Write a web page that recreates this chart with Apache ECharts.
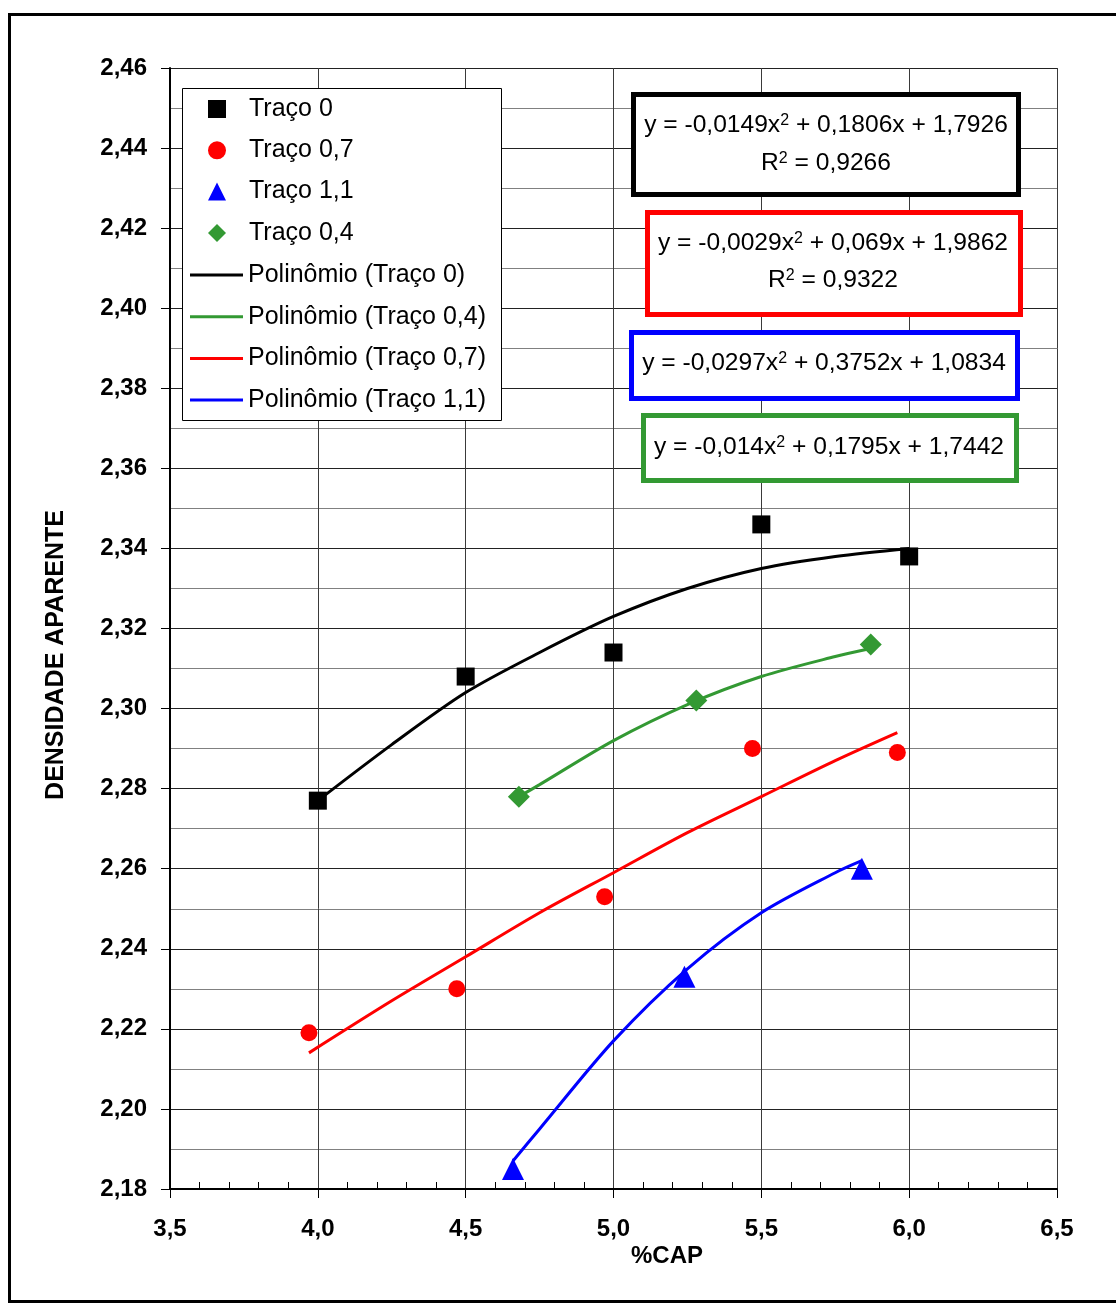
<!DOCTYPE html>
<html>
<head>
<meta charset="utf-8">
<script src="https://cdn.jsdelivr.net/npm/echarts@6/dist/echarts.min.js"></script>
<style>
html,body{margin:0;padding:0;background:#fff;}
#chart{width:1116px;height:1304px;}
</style>
</head>
<body>
<div id="chart"></div>
<script>
// ---- data ----
var xTicks = { min: 3.5, max: 6.5, step: 0.5 };
var yTicks = { min: 2.18, max: 2.46, step: 0.02 };

var traco0 = [[4.0, 2.277], [4.5, 2.308], [5.0, 2.314], [5.5, 2.346], [6.0, 2.338]];
var traco07 = [[3.97, 2.219], [4.47, 2.230], [4.97, 2.253], [5.47, 2.290], [5.96, 2.289]];
var traco11 = [[4.66, 2.185], [5.24, 2.233], [5.84, 2.260]];
var traco04 = [[4.68, 2.278], [5.28, 2.302], [5.87, 2.316]];

// trend curves
var poly0 = [[4.0, 2.277], [4.25, 2.291], [4.5, 2.304], [4.75, 2.314], [5.0, 2.323], [5.25, 2.330], [5.5, 2.335], [5.75, 2.338], [6.0, 2.340]];
var poly04 = [[4.68, 2.278], [4.75, 2.281], [5.0, 2.292], [5.25, 2.301], [5.5, 2.308], [5.75, 2.313], [5.87, 2.315]];
var poly07 = [[3.97, 2.214], [4.25, 2.227], [4.5, 2.238], [4.75, 2.249], [5.0, 2.259], [5.25, 2.269], [5.5, 2.278], [5.75, 2.287], [5.96, 2.294]];
var poly11 = [[4.66, 2.187], [4.75, 2.195], [5.0, 2.217], [5.25, 2.235], [5.5, 2.249], [5.75, 2.259], [5.84, 2.262]];

var markerNames = ['Traço 0', 'Traço 0,7', 'Traço 1,1', 'Traço 0,4'];
var lineNames = ['Polinômio (Traço 0)', 'Polinômio (Traço 0,4)', 'Polinômio (Traço 0,7)', 'Polinômio (Traço 1,1)'];

var eqBlack = ['y = -0,0149x{s|2} + 0,1806x + 1,7926', 'R{s|2} = 0,9266'];
var eqRed = ['y = -0,0029x{s|2} + 0,069x + 1,9862', 'R{s|2} = 0,9322'];
var eqBlue = ['y = -0,0297x{s|2} + 0,3752x + 1,0834'];
var eqGreen = ['y = -0,014x{s|2} + 0,1795x + 1,7442'];

var FONT = "'Liberation Sans', Arial, sans-serif";
var GREEN = '#339933';

var chart = echarts.init(document.getElementById('chart'), null, { renderer: 'canvas' });

function eqText(x, y, txt) {
  return {
    type: 'text', z: 101, x: x, y: y,
    style: {
      text: txt, textAlign: 'center', textVerticalAlign: 'middle',
      fontFamily: FONT, fontSize: 24.6, lineHeight: 25, fill: '#000',
      rich: { s: { fontSize: 16, lineHeight: 16, verticalAlign: 'top', fontFamily: FONT, fill: '#000' } }
    }
  };
}
function eqBox(x, y, w, h, color) {
  return { type: 'rect', z: 100, shape: { x: x, y: y, width: w, height: h },
    style: { fill: '#fff', stroke: color, lineWidth: 5 } };
}

var option = {
  backgroundColor: '#fff',
  animation: false,
  grid: { left: 170, top: 68, right: 59, bottom: 115, containLabel: false },
  xAxis: [{
    type: 'value', min: xTicks.min, max: xTicks.max, interval: xTicks.step, position: 'bottom',
    axisLine: { show: true, lineStyle: { color: '#000', width: 2 } },
    axisTick: { show: true, inside: false, length: 9, lineStyle: { color: '#000', width: 1 } },
    axisLabel: { margin: 28, color: '#000', fontFamily: FONT, fontSize: 24, fontWeight: 'bold',
      formatter: function (v) { return v.toFixed(1).replace('.', ','); } },
    splitLine: { show: true, lineStyle: { color: '#3a3a3a', width: 1 } }
  }, {
    type: 'value', min: xTicks.min, max: xTicks.max, interval: xTicks.step, position: 'bottom',
    axisLine: { show: false },
    axisTick: { show: false, inside: true },
    minorTick: { show: true, splitNumber: 5, length: 7, lineStyle: { color: '#000', width: 1 } },
    axisLabel: { show: false },
    splitLine: { show: false }
  }],
  yAxis: {
    type: 'value', min: yTicks.min, max: yTicks.max, interval: yTicks.step,
    axisLine: { show: true, lineStyle: { color: '#000', width: 2 } },
    axisTick: { show: true, inside: false, length: 9, lineStyle: { color: '#000', width: 1 } },
    axisLabel: { margin: 23, color: '#000', fontFamily: FONT, fontSize: 24, fontWeight: 'bold',
      formatter: function (v) { return v.toFixed(2).replace('.', ','); } },
    splitLine: { show: true, lineStyle: { color: '#222', width: 1 } },
    minorTick: { show: false, splitNumber: 2 },
    minorSplitLine: { show: true, lineStyle: { color: '#808080', width: 1 } }
  },
  legend: [{
    orient: 'vertical', left: 208, top: 96.5, padding: 0, z: 5,
    itemWidth: 18, itemHeight: 18, itemGap: 16.3,
    textStyle: { fontFamily: FONT, fontSize: 25, lineHeight: 25, color: '#000', padding: [0, 0, 0, 18] },
    data: markerNames
  }, {
    orient: 'vertical', left: 190, top: 262.5, padding: 0, z: 5,
    icon: 'rect', itemWidth: 53, itemHeight: 3, itemGap: 16.7,
    textStyle: { fontFamily: FONT, fontSize: 25, lineHeight: 25, color: '#000' },
    data: lineNames
  }],
  series: [
    { name: lineNames[0], type: 'line', data: poly0, smooth: 0.3, symbol: 'none', showSymbol: false, z: 3,
      lineStyle: { color: '#000', width: 3 }, itemStyle: { color: '#000' } },
    { name: lineNames[1], type: 'line', data: poly04, smooth: 0.3, symbol: 'none', showSymbol: false, z: 3,
      lineStyle: { color: GREEN, width: 3 }, itemStyle: { color: GREEN } },
    { name: lineNames[2], type: 'line', data: poly07, smooth: 0.3, symbol: 'none', showSymbol: false, z: 3,
      lineStyle: { color: '#ff0000', width: 3 }, itemStyle: { color: '#ff0000' } },
    { name: lineNames[3], type: 'line', data: poly11, smooth: 0.3, symbol: 'none', showSymbol: false, z: 3,
      lineStyle: { color: '#0000ff', width: 3 }, itemStyle: { color: '#0000ff' } },
    { name: markerNames[0], type: 'scatter', data: traco0, symbol: 'rect', symbolSize: 18, z: 5,
      itemStyle: { color: '#000', opacity: 1 } },
    { name: markerNames[1], type: 'scatter', data: traco07, symbol: 'circle', symbolSize: 17, z: 5,
      itemStyle: { color: '#ff0000', opacity: 1 } },
    { name: markerNames[2], type: 'scatter', data: traco11, symbol: 'triangle', symbolSize: 22, z: 5,
      itemStyle: { color: '#0000ff', opacity: 1 } },
    { name: markerNames[3], type: 'scatter', data: traco04, symbol: 'diamond', symbolSize: 22, z: 5,
      itemStyle: { color: GREEN, opacity: 1 } }
  ],
  graphic: [
    { type: 'rect', z: 100, silent: true, shape: { x: 9.5, y: 14.5, width: 1120, height: 1287 },
      style: { fill: 'none', stroke: '#000', lineWidth: 3 } },
    { type: 'rect', z: 3, silent: true, shape: { x: 182.5, y: 88.5, width: 319, height: 332 },
      style: { fill: '#fff', stroke: '#000', lineWidth: 1 } },
    { type: 'text', z: 100, x: 667, y: 1256,
      style: { text: '%CAP', textAlign: 'center', textVerticalAlign: 'middle',
        fontFamily: FONT, fontSize: 24, fontWeight: 'bold', fill: '#000' } },
    { type: 'text', z: 100, x: 56, y: 655, rotation: Math.PI / 2,
      style: { text: 'DENSIDADE APARENTE', textAlign: 'center', textVerticalAlign: 'middle',
        fontFamily: FONT, fontSize: 25, fontWeight: 'bold', fill: '#000' } },
    eqBox(633.5, 94.5, 385, 100, '#000'),
    eqText(826, 125, eqBlack[0]),
    eqText(826, 163, eqBlack[1]),
    eqBox(647.5, 212.5, 373, 102, '#ff0000'),
    eqText(833, 243, eqRed[0]),
    eqText(833, 280, eqRed[1]),
    eqBox(631.5, 332.5, 386, 66, '#0000ff'),
    eqText(824, 363, eqBlue[0]),
    eqBox(643.5, 415.5, 373, 65, GREEN),
    eqText(829, 447, eqGreen[0])
  ]
};
chart.setOption(option);
</script>
</body>
</html>
